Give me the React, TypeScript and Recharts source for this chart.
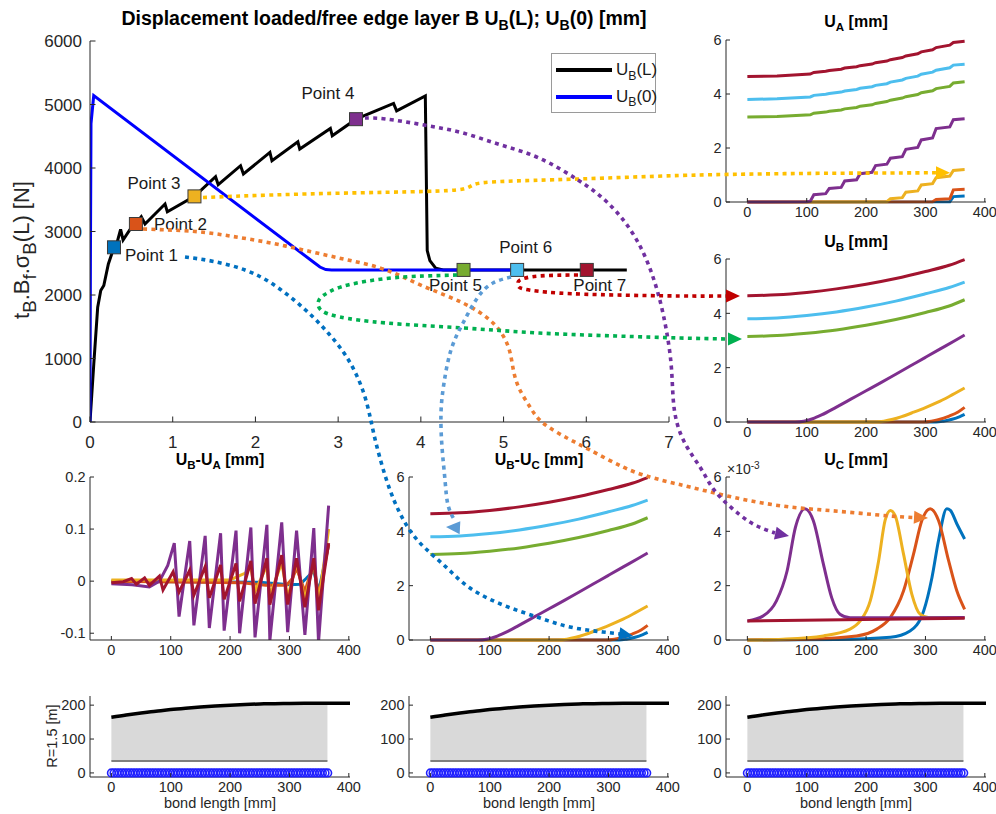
import React from 'react';
import { ComposedChart, Line, XAxis, YAxis, Scatter, Area } from 'recharts';

const FONT = '"Liberation Sans", Arial, Helvetica, sans-serif';
const AX = '#262626';

// ---------------- main plot data ----------------
const loadedX = [0, 0.046, 0.093, 0.13, 0.167, 0.222, 0.29, 0.33, 0.37, 0.4, 0.48, 0.556, 0.62, 0.665, 0.907, 0.935, 1.263, 1.518, 1.55, 1.82, 1.855, 2.175, 2.2, 2.513, 2.536, 2.906, 2.929, 3.216, 3.67, 3.707, 4.054, 4.077, 4.109, 4.179, 4.27, 6.49];
const loadedY = [0, 917, 1808, 2070, 2149, 2489, 2751, 2840, 3034, 2866, 3024, 3129, 3233, 3118, 3433, 3312, 3553, 3863, 3737, 4036, 3905, 4245, 4114, 4413, 4298, 4623, 4507, 4769, 5016, 4900, 5136, 2699, 2542, 2421, 2395, 2395];
const freeX = [0, 0.005, 0.012, 0.045, 2.7, 2.78, 2.85, 2.92, 5.17];
const freeY = [0, 2500, 4700, 5140, 2520, 2440, 2400, 2395, 2395];
const pointNames = ['Point 1', 'Point 2', 'Point 3', 'Point 4', 'Point 5', 'Point 6', 'Point 7'];
const pointX = [0.29, 0.555, 1.263, 3.216, 4.516, 5.164, 6.006];
const pointY = [2751, 3118, 3553, 4769, 2395, 2395, 2395];
const mainXTicks = [0, 1, 2, 3, 4, 5, 6, 7];
const mainYTicks = [0, 1000, 2000, 3000, 4000, 5000, 6000];
const legendNames = ['U_B(L)', 'U_B(0)'];

// ---------------- small plots ----------------
const bondTicks = [0, 100, 200, 300, 400];
const dispTicks = [0, 2, 4, 6];
const diffTicks = [-0.1, 0, 0.1, 0.2];
const rTicks = [0, 100, 200];

// U_A [mm]
const uaP1 = [[0, 0], [341, 0.01], [347, 0.2], [366, 0.22]];
const uaP2 = [[0, 0], [312, 0.01], [318, 0.09], [341, 0.12], [347, 0.45], [366, 0.47]];
const uaP3 = [[0, 0], [235, 0.01], [241, 0.12], [261, 0.16], [267, 0.36], [287, 0.41], [293, 0.63], [312, 0.68], [318, 0.9], [341, 0.96], [347, 1.17], [366, 1.2]];
const uaP4 = [[0, 0], [100, 0.01], [106, 0.03], [112, 0.27], [132, 0.31], [138, 0.5], [158, 0.54], [164, 0.78], [184, 0.82], [190, 1.05], [210, 1.1], [216, 1.35], [235, 1.4], [241, 1.62], [261, 1.68], [267, 1.95], [287, 2.02], [293, 2.3], [312, 2.37], [318, 2.72], [341, 2.78], [347, 3.05], [366, 3.08]];
const uaP5 = [[0, 3.15], [50, 3.17], [106, 3.23], [112, 3.29], [132, 3.33], [138, 3.36], [158, 3.41], [164, 3.45], [184, 3.5], [190, 3.55], [210, 3.6], [216, 3.65], [235, 3.72], [241, 3.77], [261, 3.85], [267, 3.9], [287, 3.98], [293, 4.05], [312, 4.12], [318, 4.2], [341, 4.28], [347, 4.41], [366, 4.45]];
const uaP6 = [[0, 3.8], [50, 3.82], [106, 3.89], [112, 3.95], [132, 3.99], [138, 4.02], [158, 4.07], [164, 4.11], [184, 4.17], [190, 4.21], [210, 4.27], [216, 4.32], [235, 4.38], [241, 4.44], [261, 4.52], [267, 4.58], [287, 4.66], [293, 4.73], [312, 4.81], [318, 4.88], [341, 4.97], [347, 5.07], [366, 5.1]];
const uaP7 = [[0, 4.65], [50, 4.67], [106, 4.74], [112, 4.8], [132, 4.84], [138, 4.87], [158, 4.92], [164, 4.96], [184, 5.01], [190, 5.05], [210, 5.11], [216, 5.16], [235, 5.22], [241, 5.27], [261, 5.35], [267, 5.41], [287, 5.49], [293, 5.56], [312, 5.64], [318, 5.72], [341, 5.81], [347, 5.91], [366, 5.95]];

// U_B [mm]  (also U_B-U_C [mm])
const ubP1 = [[0, 0], [318, 0], [330, 0.03], [345, 0.1], [358, 0.2], [366, 0.28]];
const ubP2 = [[0, 0], [295, 0], [310, 0.03], [320, 0.08], [340, 0.22], [355, 0.37], [366, 0.54]];
const ubP3 = [[0, 0], [215, 0], [230, 0.03], [245, 0.1], [260, 0.2], [280, 0.36], [300, 0.53], [320, 0.72], [340, 0.94], [366, 1.25]];
const ubP4 = [[0, 0], [80, 0], [95, 0.03], [110, 0.12], [125, 0.26], [150, 0.55], [175, 0.85], [200, 1.15], [225, 1.45], [250, 1.76], [275, 2.07], [300, 2.38], [325, 2.69], [350, 3.0], [366, 3.2]];
const ubP5 = [[0, 3.15], [50, 3.18], [100, 3.27], [150, 3.39], [200, 3.56], [250, 3.77], [300, 4.03], [340, 4.27], [366, 4.5]];
const ubP6 = [[0, 3.8], [50, 3.83], [100, 3.92], [150, 4.05], [200, 4.23], [250, 4.45], [300, 4.72], [340, 4.95], [366, 5.15]];
const ubP7 = [[0, 4.65], [50, 4.68], [100, 4.77], [150, 4.9], [200, 5.07], [250, 5.28], [300, 5.54], [340, 5.77], [366, 5.98]];

// U_B-U_A [mm]
const dP1 = [[0, 0], [250, -0.002], [300, -0.007], [318, -0.006], [328, 0.005], [341, 0.02], [349, -0.02], [366, 0.07]];
const dP2 = [[0, 0], [220, -0.003], [260, -0.008], [295, -0.008], [305, 0.005], [312, 0.025], [326, -0.02], [341, 0.035], [349, -0.03], [366, 0.07]];
const dP3 = [[0, 0.002], [200, 0.002], [215, 0.01], [225, 0.015], [235, 0.026], [242, -0.02], [262, 0.03], [267, -0.028], [287, 0.036], [297, -0.032], [312, 0.036], [326, -0.036], [341, 0.038], [349, -0.042], [366, 0.1]];
const dP4 = [[0, -0.005], [35, -0.007], [64, -0.011], [81, 0], [95, 0.03], [106, 0.073], [114, -0.068], [132, 0.077], [139, -0.085], [158, 0.087], [165, -0.09], [184, 0.092], [190, -0.095], [210, 0.097], [216, -0.1], [235, 0.103], [242, -0.108], [262, 0.108], [267, -0.114], [287, 0.113], [297, -0.098], [312, 0.097], [326, -0.103], [341, 0.102], [349, -0.117], [366, 0.145]];
const dP7 = [[0, -0.003], [20, -0.001], [34, 0.005], [42, -0.006], [56, 0.006], [64, -0.008], [81, 0.01], [87, -0.017], [104, 0.018], [114, -0.021], [132, 0.021], [139, -0.027], [158, 0.028], [165, -0.032], [184, 0.031], [190, -0.035], [210, 0.034], [216, -0.039], [235, 0.039], [242, -0.043], [262, 0.044], [267, -0.045], [287, 0.05], [297, -0.045], [312, 0.044], [326, -0.05], [341, 0.044], [349, -0.056], [366, 0.073]];

// U_C [mm] (x 10^-3)
const cP1 = [[0, 0], [150, 0.02], [241, 0.1], [274, 0.33], [297, 1.07], [311, 2.3], [322, 3.66], [336, 4.83], [342, 4.77], [353, 4.27], [366, 3.72]];
const cP2 = [[0, 0], [100, 0.03], [184, 0.15], [218, 0.4], [241, 0.83], [263, 1.8], [280, 3.17], [294, 4.4], [308, 4.83], [322, 4.4], [339, 2.92], [353, 1.8], [366, 1.13]];
const cP3 = [[0, 0], [60, 0.03], [128, 0.15], [173, 0.4], [190, 0.7], [207, 1.44], [221, 2.9], [232, 4.4], [241, 4.77], [249, 4.58], [263, 3.17], [277, 1.69], [291, 0.95], [305, 0.83], [366, 0.83]];
const cP4 = [[0, 0.7], [27, 0.89], [49, 1.44], [67, 2.55], [81, 4.15], [97, 4.83], [111, 4.4], [128, 2.8], [142, 1.56], [156, 0.95], [173, 0.82], [250, 0.82], [366, 0.83]];
const cP7 = [[0, 0.7], [366, 0.8]];

// R = 1.5 m rows
const rBondX = [0, 25, 50, 75, 100, 125, 150, 175, 200, 225, 250, 275, 300, 325, 350, 364, 402];
const rTop = [164, 171, 177, 182, 187, 191, 194.5, 197.5, 200, 202, 203.5, 204.5, 205, 205.3, 205.5, 205.5, 205.5];
const rBase = 35;
const rFillEnd = 364;
const bondNodes = [0, 4.5, 9, 13.5, 18, 22.5, 27, 31.5, 36, 40.5, 45, 49.5, 54, 58.5, 63, 67.5, 72, 76.5, 81, 85.5, 90, 94.5, 99, 103.5, 108, 112.5, 117, 121.5, 126, 130.5, 135, 139.5, 144, 148.5, 153, 157.5, 162, 166.5, 171, 175.5, 180, 184.5, 189, 193.5, 198, 202.5, 207, 211.5, 216, 220.5, 225, 229.5, 234, 238.5, 243, 247.5, 252, 256.5, 261, 265.5, 270, 274.5, 279, 283.5, 288, 292.5, 297, 301.5, 306, 310.5, 315, 319.5, 324, 328.5, 333, 337.5, 342, 346.5, 351, 355.5, 360, 364.5];

// ---------------- annotation arrows (page pixel coordinates) ----------------
const arrowP1 = [[185, 257], [214, 261.5], [245, 270], [271, 283], [294, 300], [313, 317], [329, 334], [344, 353], [356, 374], [365, 397], [371, 421], [377, 447], [390, 490], [407, 526], [425, 548], [447, 568], [470, 588], [503, 605], [537, 617], [570, 627], [603, 632], [620, 634]];
const arrowP2 = [[143, 229], [195, 231.5], [233, 236.5], [271, 243], [310, 251.5], [348, 260], [386, 270], [424, 286.5], [463, 303], [493, 323], [508, 346], [513, 368], [519, 388], [530, 407], [543, 423], [567, 438], [590, 450], [623, 467], [650, 477], [673, 483], [690, 487], [723, 495], [757, 502], [790, 507], [823, 510], [857, 513], [890, 516], [913, 517.5]];
const arrowP3 = [[203, 197.5], [271, 195], [348, 193], [424, 191.5], [463, 189], [474, 184.5], [501, 181.5], [578, 179], [680, 175.5], [757, 174], [823, 173.3], [890, 173], [937, 172.7]];
const arrowP4 = [[365, 118], [386, 119], [424, 125], [463, 133], [501, 145], [539, 158], [578, 180], [608, 203], [635, 237], [654, 280], [665, 323], [671, 363], [673, 396], [677, 423], [687, 447], [700, 467], [710, 484], [722, 499], [740, 515], [757, 526], [775, 533]];
const arrowP5 = [[457, 275], [424, 276], [386, 278.5], [348, 285], [329, 292], [319, 300], [321, 310], [340, 317], [386, 323], [463, 328], [539, 333], [616, 336], [680, 338], [728, 339]];
const arrowP6 = [[511, 277], [493, 283], [478, 297], [463, 323], [451, 350], [444, 383], [441, 413], [442, 447], [445, 480], [448, 505], [455, 521]];
const arrowP7 = [[578, 275], [539, 276], [520, 280], [518, 285], [524, 289], [558, 293], [616, 295], [680, 296], [727, 296]];
const arrowTips = [[633, 636], [928, 518], [950, 172.7], [789, 536], [742, 339], [446, 527], [740, 296]];
const arrowAngles = [10, 3, 0, 12, 0, 183, 0];

// ---------------- styles ----------------
const C = ['#0072BD', '#D95319', '#EDB120', '#7E2F8E', '#77AC30', '#4DBEEE', '#A2142F'];
const ARROW_C = ['#0070C0', '#ED7D31', '#FFC000', '#7030A0', '#00B050', '#5B9BD5', '#C00000'];
const pointLabelOffsets = [
  { dx: 11, dy: 8, anchor: 'start' },
  { dx: 18, dy: 0, anchor: 'start' },
  { dx: -14, dy: -14, anchor: 'end' },
  { dx: -28, dy: -26, anchor: 'middle' },
  { dx: -8, dy: 15, anchor: 'middle' },
  { dx: 8.5, dy: -23, anchor: 'middle' },
  { dx: 13, dy: 15, anchor: 'middle' },
];

const toXY = (pairs: number[][]) => pairs.map(([x, y]) => ({ x, y }));
const zipXY = (xs: number[], ys: number[]) => xs.map((x, i) => ({ x, y: ys[i] }));

type PanelOpts = {
  left: number; top: number; w: number; h: number;
  xDomain: [number, number]; yDomain: [number, number];
  xTicks: number[]; yTicks: number[];
  fs: number; tickLen: number; xLabelOff: number; yLabelGap: number;
  L?: number; B?: number; R?: number; T?: number; yOverflow?: boolean;
};

function Panel(props: { o: PanelOpts; children?: React.ReactNode }) {
  const o = props.o;
  const L = o.L ?? 50, B = o.B ?? 30, R = o.R ?? 20, T = o.T ?? 14;
  const M = 2;
  const bottomTick = (p: any) => {
    const ay = p.y - M;
    return (
      <g>
        <line x1={p.x} x2={p.x} y1={ay} y2={ay - o.tickLen} stroke={AX} strokeWidth={1} />
        <text x={p.x} y={ay + o.xLabelOff} textAnchor="middle" fontSize={o.fs} fontFamily={FONT} fill={AX}>{String(p.payload.value)}</text>
      </g>
    );
  };
  const topTick = (p: any) => <line x1={p.x} x2={p.x} y1={p.y} y2={p.y + o.tickLen} stroke={AX} strokeWidth={1} />;
  const leftTick = (p: any) => {
    const ax = p.x + M;
    return (
      <g>
        <line x1={ax} x2={ax + o.tickLen} y1={p.y} y2={p.y} stroke={AX} strokeWidth={1} />
        <text x={ax - o.yLabelGap} y={p.y} dy="0.36em" textAnchor="end" fontSize={o.fs} fontFamily={FONT} fill={AX}>{String(p.payload.value)}</text>
      </g>
    );
  };
  const rightTick = (p: any) => <line x1={p.x} x2={p.x - o.tickLen} y1={p.y} y2={p.y} stroke={AX} strokeWidth={1} />;
  return (
    <div style={{ position: 'absolute', left: o.left - L, top: o.top - T }}>
      <ComposedChart width={L + o.w + R} height={T + o.h + B} margin={{ top: T, right: R, bottom: 0, left: 0 }} style={{ overflow: 'visible' }}>
        <XAxis xAxisId="b" type="number" dataKey="x" domain={o.xDomain} ticks={o.xTicks} allowDataOverflow interval={0} height={B} tickSize={0} tickMargin={M} tickLine={false} tick={bottomTick} axisLine={{ stroke: AX }} />
        <XAxis xAxisId="t" orientation="top" type="number" dataKey="x" domain={o.xDomain} ticks={o.xTicks} allowDataOverflow interval={0} height={0} tickSize={0} tickMargin={0} tickLine={false} tick={topTick} axisLine={{ stroke: AX }} />
        <YAxis yAxisId="l" type="number" domain={o.yDomain} ticks={o.yTicks} allowDataOverflow={!!o.yOverflow} interval={0} width={L} tickSize={0} tickMargin={M} tickLine={false} tick={leftTick} axisLine={{ stroke: AX }} />
        <YAxis yAxisId="r" orientation="right" type="number" domain={o.yDomain} ticks={o.yTicks} allowDataOverflow={!!o.yOverflow} interval={0} width={0} tickSize={0} tickMargin={0} tickLine={false} tick={rightTick} axisLine={{ stroke: AX }} />
        {props.children}
      </ComposedChart>
    </div>
  );
}

const series = (sets: number[][][], colors: string[], type: any, w = 3) =>
  sets.map((s, i) => (
    <Line key={'s' + i} xAxisId="b" yAxisId="l" data={toXY(s)} dataKey="y" type={type} stroke={colors[i]} strokeWidth={w} dot={false} isAnimationActive={false} legendType="none" />
  ));

const Sub = ({ children, k = 0.72 }: { children: React.ReactNode; k?: number }) => (
  <span style={{ fontSize: k + 'em', position: 'relative', top: '0.38em', lineHeight: 0 }}>{children}</span>
);
const Sup = ({ children }: { children: React.ReactNode }) => (
  <span style={{ fontSize: '0.72em', position: 'relative', top: '-0.45em', lineHeight: 0 }}>{children}</span>
);

const textAt = (x: number, y: number, content: React.ReactNode, style: React.CSSProperties = {}, key?: string) => (
  <div key={key} style={{ position: 'absolute', left: x, top: y, transform: 'translate(-50%,-50%)', whiteSpace: 'nowrap', fontFamily: FONT, color: '#000', lineHeight: 1, ...style }}>{content}</div>
);

const smallBase = { w: 260, xDomain: [-36, 402] as [number, number], xTicks: bondTicks, fs: 14.5, tickLen: 4, xLabelOff: 15, yLabelGap: 4.5 };

export default function App() {
  const pointData = pointNames.map((n, i) => ({ x: pointX[i], y: pointY[i], name: n }));
  const pointShape = (p: any) => {
    const i = pointNames.indexOf(p.payload.name);
    const off = pointLabelOffsets[i];
    return (
      <g>
        <rect x={p.cx - 6.5} y={p.cy - 6.5} width={13} height={13} fill={C[i]} stroke="#3a3a3a" strokeWidth={1} />
        <text x={p.cx + off.dx} y={p.cy + off.dy} dy="0.36em" textAnchor={off.anchor as any} fontSize={17} fontFamily={FONT} fill="#1a1a1a">{p.payload.name}</text>
      </g>
    );
  };

  const mainO: PanelOpts = { left: 90, top: 41, w: 579, h: 381, xDomain: [0, 7], yDomain: [0, 6000], xTicks: mainXTicks, yTicks: mainYTicks, fs: 17, tickLen: 5.5, xLabelOff: 26, yLabelGap: 8, L: 90, B: 38, R: 11, T: 14 };

  const fillData = rBondX.filter((x) => x <= rFillEnd).map((x, i) => ({ x, r: [rBase, rTop[i]] }));
  const baseLine = [{ x: 0, y: rBase }, { x: rFillEnd, y: rBase }];
  const topLine = zipXY(rBondX, rTop);
  const nodes = bondNodes.map((x) => ({ x, y: 0 }));

  const bottomRow = (left: number, key: string) => (
    <Panel key={key} o={{ ...smallBase, left, top: 696, h: 81, yDomain: [-12, 227], yTicks: rTicks }}>
      <Area xAxisId="b" yAxisId="l" data={fillData} dataKey="r" type="monotone" fill="#d9d9d9" fillOpacity={1} stroke="none" isAnimationActive={false} legendType="none" />
      <Line xAxisId="b" yAxisId="l" data={baseLine} dataKey="y" stroke="#7f7f7f" strokeWidth={2} dot={false} isAnimationActive={false} legendType="none" />
      <Line xAxisId="b" yAxisId="l" data={topLine} dataKey="y" type="monotone" stroke="#000" strokeWidth={3.5} dot={false} isAnimationActive={false} legendType="none" />
      <Scatter xAxisId="b" yAxisId="l" data={nodes} dataKey="y" isAnimationActive={false} legendType="none"
        shape={(p: any) => <circle cx={p.cx} cy={p.cy} r={3.8} fill="none" stroke="#2020ff" strokeWidth={1.6} />} />
    </Panel>
  );

  const arrows = [arrowP1, arrowP2, arrowP3, arrowP4, arrowP5, arrowP6, arrowP7];

  return (
    <div style={{ position: 'absolute', left: 0, top: 0, width: 996, height: 814, background: '#fff', fontFamily: FONT, overflow: 'hidden' }}>
      {/* main plot */}
      <Panel o={mainO}>
        <Line xAxisId="b" yAxisId="l" data={zipXY(loadedX, loadedY)} dataKey="y" stroke="#000" strokeWidth={3} dot={false} isAnimationActive={false} name={legendNames[0]} />
        <Line xAxisId="b" yAxisId="l" data={zipXY(freeX, freeY)} dataKey="y" stroke="#0000FF" strokeWidth={3} dot={false} isAnimationActive={false} name={legendNames[1]} />
        <Scatter xAxisId="b" yAxisId="l" data={pointData} dataKey="y" shape={pointShape} isAnimationActive={false} legendType="none" />
      </Panel>
      {/* legend */}
      <div style={{ position: 'absolute', left: 551, top: 53, width: 105, height: 60, border: '1px solid #9a9a9a', boxSizing: 'border-box', background: '#fff' }}>
        {[['#000', '(L)'], ['#0000FF', '(0)']].map(([col, suf], i) => (
          <div key={i} style={{ position: 'absolute', left: 4, top: 16 + i * 26.7 - 10, height: 20, display: 'flex', alignItems: 'center', fontSize: 17, fontFamily: FONT, color: '#1a1a1a', whiteSpace: 'nowrap' }}>
            <svg width={56} height={20}><line x1={0} x2={56} y1={10} y2={10} stroke={col} strokeWidth={4} /></svg>
            <span style={{ marginLeft: 4 }}>U<Sub>B</Sub>{suf}</span>
          </div>
        ))}
      </div>

      {/* right column */}
      <Panel o={{ ...smallBase, left: 726, top: 40, h: 162, yDomain: [0, 6], yTicks: dispTicks }}>
        {series([uaP1, uaP2, uaP3, uaP4, uaP5, uaP6, uaP7], C, 'linear')}
      </Panel>
      <Panel o={{ ...smallBase, left: 726, top: 259, h: 163, yDomain: [0, 6], yTicks: dispTicks }}>
        {series([ubP1, ubP2, ubP3, ubP4, ubP5, ubP6, ubP7], C, 'monotone')}
      </Panel>

      {/* middle row */}
      <Panel o={{ ...smallBase, left: 90, top: 477, h: 163, yDomain: [-0.113, 0.2], yTicks: diffTicks, yOverflow: true }}>
        {series([dP1, dP2, dP3, dP4, dP7], [C[0], C[1], C[2], C[3], C[6]], 'linear')}
      </Panel>
      <Panel o={{ ...smallBase, left: 409, top: 477, h: 163, yDomain: [0, 6], yTicks: dispTicks }}>
        {series([ubP1, ubP2, ubP3, ubP4, ubP5, ubP6, ubP7], C, 'monotone')}
      </Panel>
      <Panel o={{ ...smallBase, left: 726, top: 477, h: 163, yDomain: [0, 6], yTicks: dispTicks }}>
        {series([cP1, cP2, cP3, cP4, cP7], [C[0], C[1], C[2], C[3], C[6]], 'monotone')}
      </Panel>

      {/* bottom row */}
      {bottomRow(90, 'b1')}
      {bottomRow(409, 'b2')}
      {bottomRow(726, 'b3')}

      {/* titles and labels */}
      {textAt(384, 19, <>Displacement loaded/free edge layer B U<Sub>B</Sub>(L); U<Sub>B</Sub>(0) [mm]</>, { fontWeight: 'bold', fontSize: 19.5 }, 't0')}
      {textAt(856, 22, <>U<Sub>A</Sub> [mm]</>, { fontWeight: 'bold', fontSize: 16 }, 't1')}
      {textAt(856, 242, <>U<Sub>B</Sub> [mm]</>, { fontWeight: 'bold', fontSize: 16 }, 't2')}
      {textAt(220, 460, <>U<Sub>B</Sub>-U<Sub>A</Sub> [mm]</>, { fontWeight: 'bold', fontSize: 16 }, 't3')}
      {textAt(539, 460, <>U<Sub>B</Sub>-U<Sub>C</Sub> [mm]</>, { fontWeight: 'bold', fontSize: 16 }, 't4')}
      {textAt(856, 460, <>U<Sub>C</Sub> [mm]</>, { fontWeight: 'bold', fontSize: 16 }, 't5')}
      <div style={{ position: 'absolute', left: 727, top: 462, fontSize: 14, fontFamily: FONT, color: AX, lineHeight: 1, whiteSpace: 'nowrap' }}>×10<Sup>-3</Sup></div>
      {textAt(220, 803, 'bond length [mm]', { fontSize: 14.5, color: AX }, 'x1')}
      {textAt(539, 803, 'bond length [mm]', { fontSize: 14.5, color: AX }, 'x2')}
      {textAt(856, 803, 'bond length [mm]', { fontSize: 14.5, color: AX }, 'x3')}
      {textAt(52, 736, 'R=1.5 [m]', { fontSize: 14.5, color: AX, transform: 'translate(-50%,-50%) rotate(-90deg)' }, 'yr')}
      {textAt(22, 250, <>t<Sub k={0.85}>B</Sub>.B<Sub k={0.85}>f</Sub>.σ<Sub k={0.85}>B</Sub>(L) [N]</>, { fontSize: 22, color: AX, transform: 'translate(-50%,-50%) rotate(-90deg)' }, 'ym')}

      {/* annotation arrows overlay */}
      <div style={{ position: 'absolute', left: 0, top: 0, pointerEvents: 'none' }}>
        <ComposedChart width={996} height={814} margin={{ top: 0, right: 0, bottom: 0, left: 0 }}>
          <XAxis xAxisId="x" type="number" dataKey="x" domain={[0, 996]} allowDataOverflow hide />
          <YAxis yAxisId="y" type="number" domain={[0, 814]} allowDataOverflow reversed hide />
          {arrows.map((a, i) => (
            <Line key={'a' + i} xAxisId="x" yAxisId="y" data={toXY(a)} dataKey="y" type="natural" stroke={ARROW_C[i]} strokeWidth={3.6} strokeDasharray="4 4.3" dot={false} isAnimationActive={false} legendType="none" />
          ))}
          {arrowTips.map((t, i) => (
            <Scatter key={'h' + i} xAxisId="x" yAxisId="y" data={[{ x: t[0], y: t[1] }]} dataKey="y" isAnimationActive={false} legendType="none"
              shape={(p: any) => <polygon points="0,0 -14,-6.5 -14,6.5" transform={`translate(${p.cx},${p.cy}) rotate(${arrowAngles[i]})`} fill={ARROW_C[i]} />} />
          ))}
        </ComposedChart>
      </div>
    </div>
  );
}
